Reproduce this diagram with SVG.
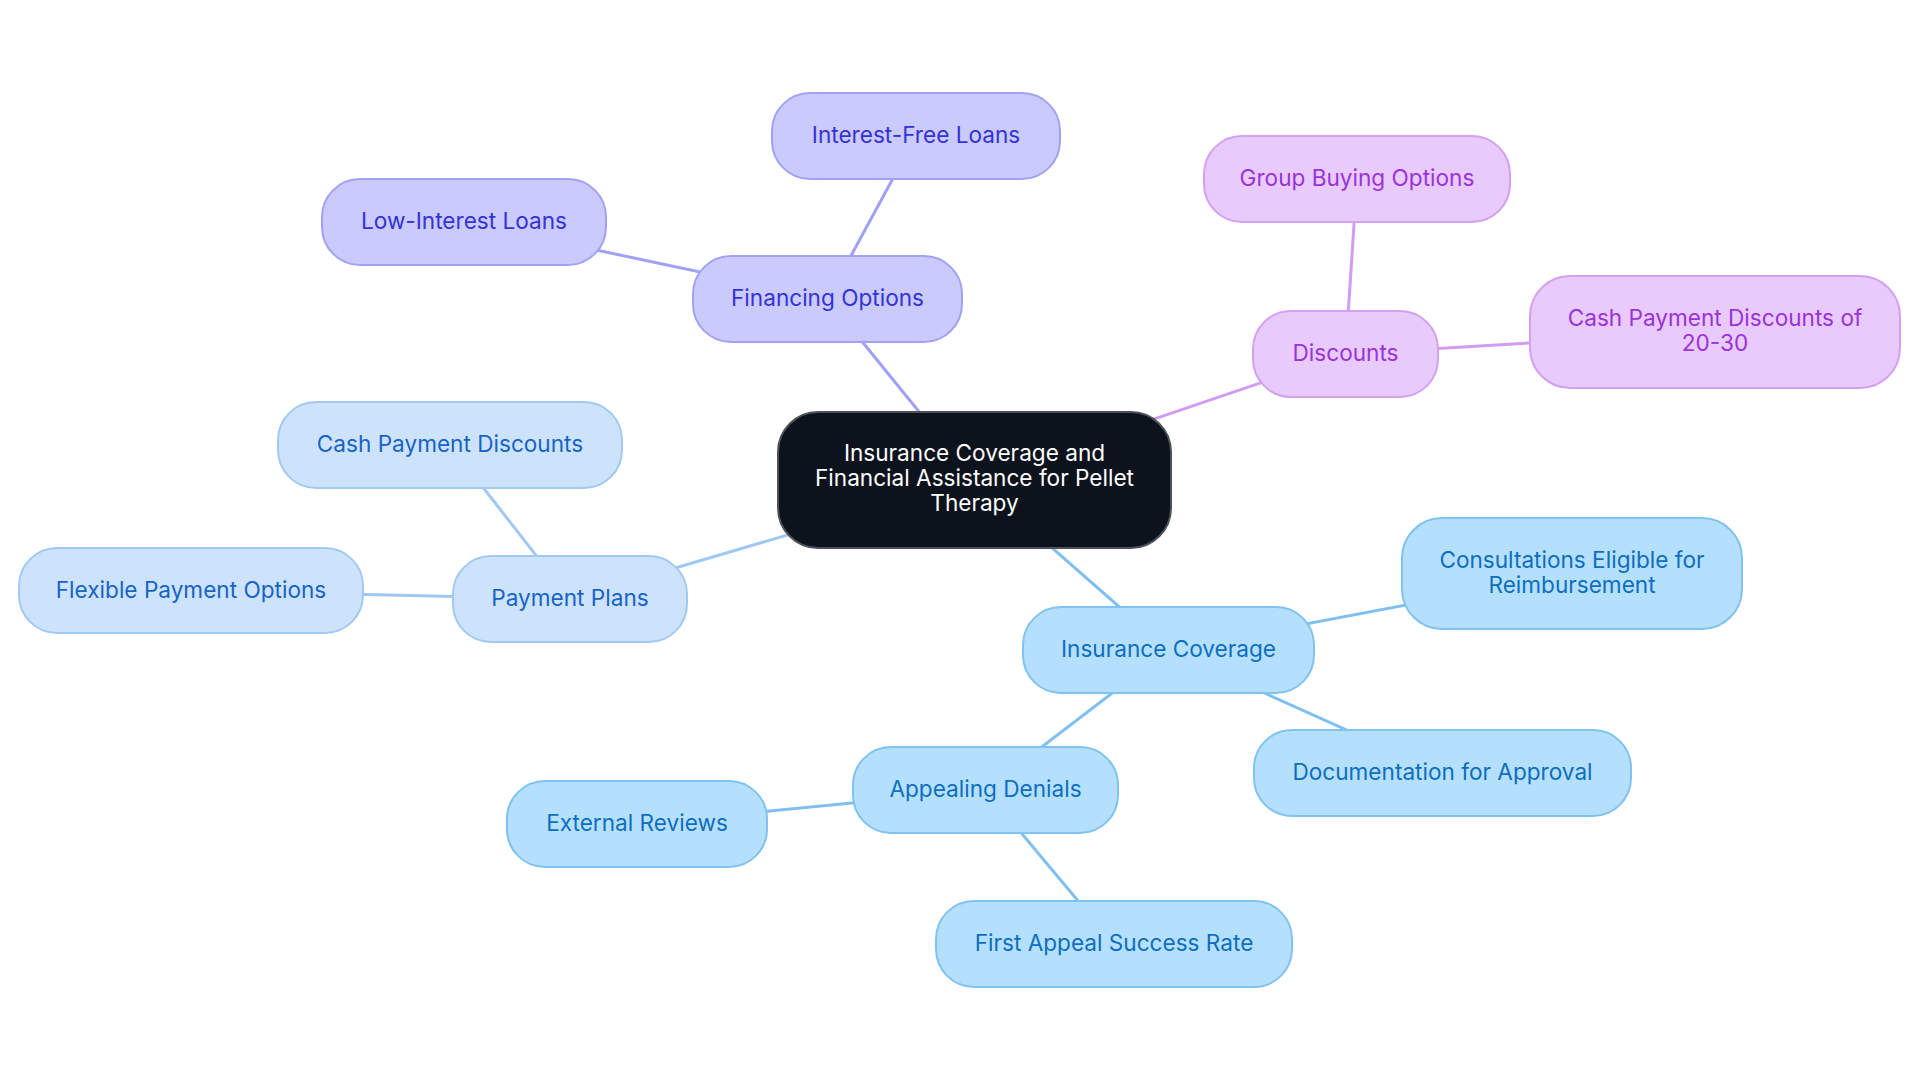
<svg xmlns="http://www.w3.org/2000/svg" width="1920" height="1083" viewBox="0 0 1920 1083">
<style>
text{font-family:Inter,"Noto Sans","Liberation Sans",sans-serif;font-size:22.6px;text-anchor:middle}
.edge{fill:none;stroke-width:3;stroke-linecap:round}
.e-fin{stroke:#a0a0f4}
.e-dis{stroke:#d19cf3}
.e-pay{stroke:#9fc8f2}
.e-ins{stroke:#80c0f0}
.n{stroke-width:2}
.fin rect{fill:#cacafc;stroke:#a2a2f2}
.fin text{fill:#3333d4}
.dis rect{fill:#e8cafd;stroke:#d4a0f0}
.dis text{fill:#9a33da}
.pay rect{fill:#cde3fb;stroke:#a2c9f2}
.pay text{fill:#1763c8}
.ins rect{fill:#b5e0fd;stroke:#80c2f0}
.ins text{fill:#0e6ec0}
.root rect{fill:#0d131d;stroke:#4d525a}
.root text{fill:#ffffff}
</style>
<rect width="1920" height="1083" fill="#ffffff"/>
<g id="connectors">
<line class="edge e-fin" x1="974.5" y1="480" x2="827.5" y2="299"/>
<line class="edge e-dis" x1="974.5" y1="480" x2="1345.5" y2="354"/>
<line class="edge e-pay" x1="974.5" y1="480" x2="570" y2="599"/>
<line class="edge e-ins" x1="974.5" y1="480" x2="1168.5" y2="650"/>
<line class="edge e-fin" x1="827.5" y1="299" x2="916" y2="136"/>
<line class="edge e-fin" x1="827.5" y1="299" x2="464" y2="222"/>
<line class="edge e-dis" x1="1345.5" y1="354" x2="1357" y2="179"/>
<line class="edge e-dis" x1="1345.5" y1="354" x2="1715" y2="332"/>
<line class="edge e-pay" x1="570" y1="599" x2="450" y2="445"/>
<line class="edge e-pay" x1="570" y1="599" x2="191" y2="590.5"/>
<line class="edge e-ins" x1="1168.5" y1="650" x2="1572" y2="573.5"/>
<line class="edge e-ins" x1="1168.5" y1="650" x2="1442.5" y2="773"/>
<line class="edge e-ins" x1="1168.5" y1="650" x2="985.5" y2="790"/>
<line class="edge e-ins" x1="985.5" y1="790" x2="637" y2="824"/>
<line class="edge e-ins" x1="985.5" y1="790" x2="1114" y2="944"/>
</g>
<g id="root" class="root">
<rect class="n" x="778" y="412" width="393" height="136" rx="40"/>
<text x="974.5" y="461">Insurance Coverage and</text>
<text x="974.5" y="486">Financial Assistance for Pellet</text>
<text x="974.5" y="511">Therapy</text>
</g>
<g id="financing-options" class="fin">
<rect class="n" x="693" y="256" width="269" height="86" rx="38"/>
<text x="827.5" y="306">Financing Options</text>
</g>
<g id="interest-free-loans" class="fin">
<rect class="n" x="772" y="93" width="288" height="86" rx="38"/>
<text x="916" y="143">Interest-Free Loans</text>
</g>
<g id="low-interest-loans" class="fin">
<rect class="n" x="322" y="179" width="284" height="86" rx="38"/>
<text x="464" y="229">Low-Interest Loans</text>
</g>
<g id="discounts" class="dis">
<rect class="n" x="1253" y="311" width="185" height="86" rx="38"/>
<text x="1345.5" y="361">Discounts</text>
</g>
<g id="group-buying-options" class="dis">
<rect class="n" x="1204" y="136" width="306" height="86" rx="38"/>
<text x="1357" y="186">Group Buying Options</text>
</g>
<g id="cash-payment-discounts-20-30" class="dis">
<rect class="n" x="1530" y="276" width="370" height="112" rx="40"/>
<text x="1715" y="326">Cash Payment Discounts of</text>
<text x="1715" y="351">20-30</text>
</g>
<g id="payment-plans" class="pay">
<rect class="n" x="453" y="556" width="234" height="86" rx="38"/>
<text x="570" y="606">Payment Plans</text>
</g>
<g id="cash-payment-discounts" class="pay">
<rect class="n" x="278" y="402" width="344" height="86" rx="38"/>
<text x="450" y="452">Cash Payment Discounts</text>
</g>
<g id="flexible-payment-options" class="pay">
<rect class="n" x="19" y="548" width="344" height="85" rx="38"/>
<text x="191" y="597.5">Flexible Payment Options</text>
</g>
<g id="insurance-coverage" class="ins">
<rect class="n" x="1023" y="607" width="291" height="86" rx="38"/>
<text x="1168.5" y="657">Insurance Coverage</text>
</g>
<g id="consultations-eligible" class="ins">
<rect class="n" x="1402" y="518" width="340" height="111" rx="40"/>
<text x="1572" y="568">Consultations Eligible for</text>
<text x="1572" y="593">Reimbursement</text>
</g>
<g id="documentation-for-approval" class="ins">
<rect class="n" x="1254" y="730" width="377" height="86" rx="38"/>
<text x="1442.5" y="780">Documentation for Approval</text>
</g>
<g id="appealing-denials" class="ins">
<rect class="n" x="853" y="747" width="265" height="86" rx="38"/>
<text x="985.5" y="797">Appealing Denials</text>
</g>
<g id="external-reviews" class="ins">
<rect class="n" x="507" y="781" width="260" height="86" rx="38"/>
<text x="637" y="831">External Reviews</text>
</g>
<g id="first-appeal-success-rate" class="ins">
<rect class="n" x="936" y="901" width="356" height="86" rx="38"/>
<text x="1114" y="951">First Appeal Success Rate</text>
</g>
</svg>
